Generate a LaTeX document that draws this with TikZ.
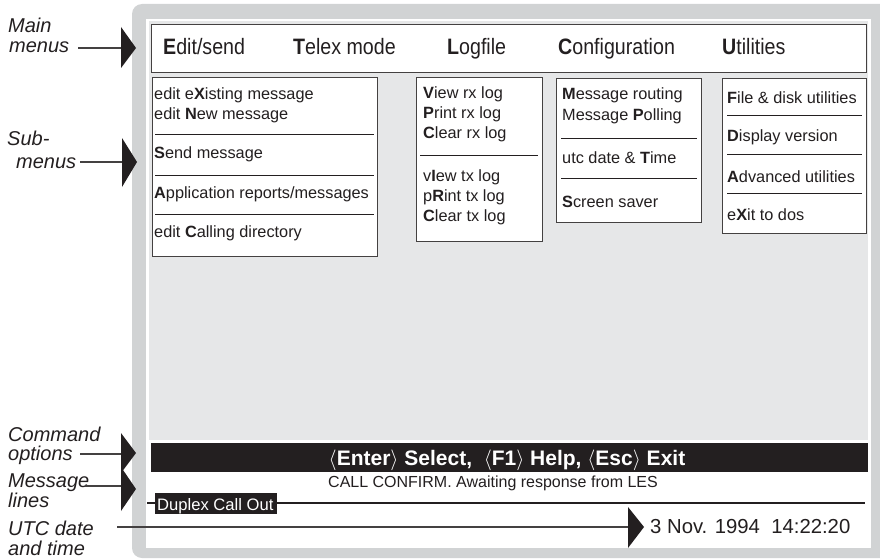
\documentclass[tikz,border=0pt]{standalone}
\usepackage{fontspec}
\setmainfont{Liberation Sans}
\newfontfamily\narrowfont[FakeStretch=0.88]{Liberation Sans}
\definecolor{framegray}{HTML}{D1D3D4}
\definecolor{screengray}{HTML}{E6E7E8}
\definecolor{ink}{HTML}{231F20}
\begin{document}
\begin{tikzpicture}[x=1pt,y=-1pt,
  box/.style={draw=ink!85, line width=1.3pt, fill=white, inner sep=0pt, anchor=north west},
  sepline/.style={draw=ink, line width=1pt},
  menutxt/.style={inner sep=0pt, anchor=base west, text=ink, font=\narrowfont\fontsize{22.3}{22}\selectfont},
  subtxt/.style={inner sep=0pt, anchor=base west, text=ink, font=\fontsize{16.3}{18}\selectfont},
  annot/.style={inner sep=0pt, anchor=base west, text=ink, font=\fontsize{20}{20}\selectfont\itshape},
  leader/.style={draw=ink!85, line width=1.2pt},
  pointer/.style={fill=ink}
]
\useasboundingbox (0,0) rectangle (880,559);
\clip (0,0) rectangle (880,559);
% screen frame
\fill[framegray, rounded corners=10pt] (132,4) rectangle (910,558);
\fill[white] (146,19) rectangle (871,548);
\fill[screengray] (149,21) rectangle (868,440);

% main menu bar
\node[box, minimum width=715pt, minimum height=48pt] (menubar) at (151,24) {};
\node[menutxt] (mEdit) at (163,55) {\textbf{E}dit/send};
\node[menutxt] (mTelex) at (293,55) {\textbf{T}elex mode};
\node[menutxt] (mLog) at (447,55) {\textbf{L}ogfile};
\node[menutxt] (mConf) at (558,55) {\textbf{C}onfiguration};
\node[menutxt] (mUtil) at (722,55) {\textbf{U}tilities};

% Edit submenu
\node[box, minimum width=225pt, minimum height=179pt] (editmenu) at (152,77) {};
\node[subtxt] (e1) at (154,100) {edit e\textbf{X}isting message};
\node[subtxt] (e2) at (154,120) {edit \textbf{N}ew message};
\draw[sepline] (155,134) -- (374,134);
\node[subtxt] (e3) at (154,158) {\textbf{S}end message};
\draw[sepline] (155,175) -- (374,175);
\node[subtxt] (e4) at (154,198) {\textbf{A}pplication reports/messages};
\draw[sepline] (155,214) -- (374,214);
\node[subtxt] (e5) at (154,237) {edit \textbf{C}alling directory};

% Logfile submenu
\node[box, minimum width=126pt, minimum height=164pt] (logmenu) at (416,77) {};
\node[subtxt] (l1) at (423,99) {\textbf{V}iew rx log};
\node[subtxt] (l2) at (423,119) {\textbf{P}rint rx log};
\node[subtxt] (l3) at (423,139) {\textbf{C}lear rx log};
\draw[sepline] (420,155) -- (538,155);
\node[subtxt] (l4) at (423,181) {v\textbf{I}ew tx log};
\node[subtxt] (l5) at (423,201) {p\textbf{R}int tx log};
\node[subtxt] (l6) at (423,221) {\textbf{C}lear tx log};

% Configuration submenu
\node[box, minimum width=145pt, minimum height=144pt] (confmenu) at (556,78) {};
\node[subtxt] (c1) at (562,100) {\textbf{M}essage routing};
\node[subtxt] (c2) at (562,121) {Message \textbf{P}olling};
\draw[sepline] (561,138) -- (697,138);
\node[subtxt] (c3) at (562,163) {utc date \& \textbf{T}ime};
\draw[sepline] (561,178) -- (697,178);
\node[subtxt] (c4) at (562,207) {\textbf{S}creen saver};

% Utilities submenu
\node[box, minimum width=144pt, minimum height=155pt] (utilmenu) at (722,78) {};
\node[subtxt] (u1) at (727,103) {\textbf{F}ile \& disk utilities};
\draw[sepline] (727,116) -- (862,116);
\node[subtxt] (u2) at (727,142) {\textbf{D}isplay version};
\draw[sepline] (727,154) -- (862,154);
\node[subtxt] (u3) at (727,182) {\textbf{A}dvanced utilities};
\draw[sepline] (727,193) -- (862,193);
\node[subtxt] (u4) at (727,220) {e\textbf{X}it to dos};

% command bar
\node[fill=ink, inner sep=0pt, anchor=north west, minimum width=717pt, minimum height=29pt] (cmdbar) at (151,443) {};
\node[inner sep=0pt, anchor=base, text=white, font=\fontsize{21}{21}\selectfont\bfseries] (cmdtxt) at (507,465)
  {$\langle$Enter$\rangle$ Select,\ \ $\langle$F1$\rangle$ Help, $\langle$Esc$\rangle$ Exit};

% message line
\node[subtxt, font=\fontsize{16}{18}\selectfont] (msg) at (328,487) {CALL CONFIRM. Awaiting response from LES};
\coordinate (ruleL) at (147,503);
\coordinate (ruleR) at (865,503);
\draw[draw=ink, line width=1.5pt] (ruleL) -- (ruleR);
\node[fill=ink, inner sep=0pt, anchor=north west, minimum width=122pt, minimum height=21pt] (duplexbg) at (155,493) {};
\node[inner sep=0pt, anchor=base west, text=white, font=\fontsize{16.6}{18}\selectfont] (duplex) at (157,510) {Duplex Call Out};

% date
\node[inner sep=0pt, anchor=base west, text=ink, font=\fontsize{20.3}{22}\selectfont] (date) at (650,533) {3 Nov. 1994\ \ 14:22:20};

% annotations
\node[annot] (aMain1) at (8,33) {Main};
\node[annot] (aMain2) at (9,53) {menus};
\node[annot] (aSub1) at (7,146) {Sub-};
\node[annot] (aSub2) at (16,168) {menus};
\node[annot] (aCmd1) at (8,441) {Command};
\node[annot] (aCmd2) at (8,460) {options};
\node[annot] (aMsg1) at (8,487) {Message};
\node[annot] (aMsg2) at (8,507) {lines};
\node[annot] (aUtc1) at (8,535) {UTC date};
\node[annot] (aUtc2) at (8,555) {and time};

% leaders and pointers
\coordinate (mainS) at (78,48);  \coordinate (mainT) at (121,48);
\draw[leader] (mainS) -- (mainT);
\fill[pointer] (121,27) -- (136,48) -- (121,68) -- cycle;

\coordinate (subS) at (80,162);  \coordinate (subT) at (122,162);
\draw[leader] (subS) -- (subT);
\fill[pointer] (122,138) -- (137,162) -- (122,187) -- cycle;

\coordinate (cmdS) at (80,454);  \coordinate (cmdT) at (121,454);
\draw[leader] (cmdS) -- (cmdT);
\fill[pointer] (121,433) -- (136,453) -- (121,473) -- cycle;

\coordinate (msgS) at (85,486);  \coordinate (msgT) at (121,486);
\draw[leader] (msgS) -- (msgT);
\fill[pointer] (121,467) -- (136,489) -- (121,511) -- cycle;

\coordinate (utcS) at (117,527);  \coordinate (utcT) at (628,527);
\draw[leader] (utcS) -- (utcT);
\fill[pointer] (628,507) -- (644,527) -- (628,548) -- cycle;
\end{tikzpicture}
\end{document}
